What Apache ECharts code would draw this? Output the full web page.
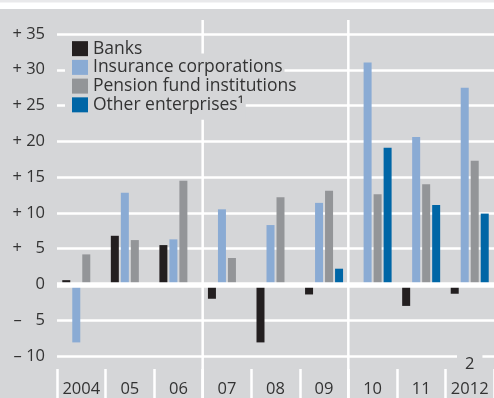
<!DOCTYPE html>
<html>
<head>
<meta charset="utf-8">
<script src="https://cdn.jsdelivr.net/npm/echarts@6/dist/echarts.min.js"></script>
<style>
html,body{margin:0;padding:0;background:#fff;}
#c{width:494px;height:398px;}
</style>
</head>
<body>
<div id="c"></div>
<script>
var categories = ['2004','05','06','07','08','09','10','11','2012'];
var banks      = [0.6, 6.8, 5.5, -2.0, -8.1, -1.4, 0.2, -3.0, -1.3];
var insurance  = [-8.1, 12.8, 6.3, 10.5, 8.3, 11.4, 31.0, 20.6, 27.5];
var pension    = [4.2, 6.2, 14.5, 3.7, 12.2, 13.1, 12.6, 14.0, 17.3];
var other      = [null, null, null, null, null, 2.2, 19.1, 11.1, 9.9];
var seriesNames = ['Banks', 'Insurance corporations', 'Pension fund institutions', 'Other enterprises\u00b9'];
var yTickValues = [-10, -5, 0, 5, 10, 15, 20, 25, 30, 35];
var yTickLabels = ['\u2013 10', '\u2013 \u20075', '0', '+ \u20075', '+ 10', '+ 15', '+ 20', '+ 25', '+ 30', '+ 35'];
var footnote = '2';

var BG = '#d5d6d8';
var FONT = 'Open Sans';
var TXT = '#333333';

var chart = echarts.init(document.getElementById('c'), null, {renderer: 'canvas'});
var colors = ['#231f20', '#8aabd4', '#939598', '#0066a6'];
var dataSets = [banks, insurance, pension, other];

var series = dataSets.map(function (d, i) {
  var s = {
    name: seriesNames[i],
    type: 'bar',
    data: d,
    barWidth: 8,
    barGap: '25%',
    itemStyle: {color: colors[i]},
    silent: true
  };
  if (i === 3) {
    s.markLine = {
      silent: true,
      symbol: 'none',
      label: {show: false},
      lineStyle: {color: '#ffffff', width: 5.5, type: 'solid'},
      data: [{yAxis: 0}]
    };
  }
  return s;
});

// one legend box per row so each row only hides the gridlines behind its own text
var legends = seriesNames.map(function (name, i) {
  var center = 48.8 + 18.73 * i;
  var padTop = i === 0 ? 2 : 5;
  return {
    orient: 'vertical',
    left: 65,
    top: center - 9.15 - padTop,
    padding: [padTop, 2, 6, 7],
    backgroundColor: BG,
    itemWidth: 16,
    itemHeight: 15,
    icon: 'rect',
    selectedMode: false,
    textStyle: {fontFamily: FONT, fontSize: 17.5, color: TXT, lineHeight: 15},
    data: [name]
  };
});

chart.setOption({
  backgroundColor: BG,
  animation: false,
  textStyle: {fontFamily: FONT},
  grid: {left: 57, right: 0, top: 34, bottom: 42, containLabel: false},
  legend: legends,
  xAxis: {
    type: 'category',
    data: categories,
    offset: 13,
    axisLine: {show: false, onZero: false},
    axisTick: {show: true, interval: 0, length: 29, lineStyle: {color: '#ffffff', width: 2.5}},
    axisLabel: {interval: 0, fontFamily: FONT, fontSize: 16.5, color: TXT, margin: 12},
    splitLine: {show: false}
  },
  yAxis: {
    type: 'value',
    min: -10,
    max: 35,
    interval: 5,
    axisLine: {show: false},
    axisTick: {show: false},
    axisLabel: {
      fontFamily: FONT, fontSize: 16.5, color: TXT, margin: 12,
      formatter: function (v) {
        var idx = yTickValues.indexOf(v);
        return idx >= 0 ? yTickLabels[idx] : '';
      }
    },
    splitLine: {lineStyle: {color: '#ffffff', width: 2.6}}
  },
  series: series
});

function px(cat) { return chart.convertToPixel({xAxisIndex: 0}, cat); }
var b1 = (px('06') + px('07')) / 2;
var b2 = (px('09') + px('10')) / 2;
var yNeg10 = chart.convertToPixel({yAxisIndex: 0}, -10);

chart.setOption({
  graphic: [
    {type: 'rect', shape: {x: 0, y: 0, width: 494, height: 9}, style: {fill: '#ffffff'}, z: 100, silent: true},
    {type: 'rect', shape: {x: 0, y: 0, width: 494, height: 2.5}, style: {fill: '#e9e9eb'}, z: 101, silent: true},
    {type: 'line', shape: {x1: b1, y1: 20, x2: b1, y2: 398}, style: {stroke: '#ffffff', lineWidth: 2.5}, z: 3, silent: true},
    {type: 'line', shape: {x1: b2, y1: 20, x2: b2, y2: 398}, style: {stroke: '#ffffff', lineWidth: 2.5}, z: 3, silent: true},
    {type: 'text', x: px('2012'), y: yNeg10 - 4, z: 60, silent: true,
     style: {text: footnote, fontFamily: FONT, fontSize: 16.5, fill: TXT, align: 'center', verticalAlign: 'top',
             backgroundColor: BG, padding: [4, 8, 0, 8], lineHeight: 17}}
  ]
});
</script>
</body>
</html>
